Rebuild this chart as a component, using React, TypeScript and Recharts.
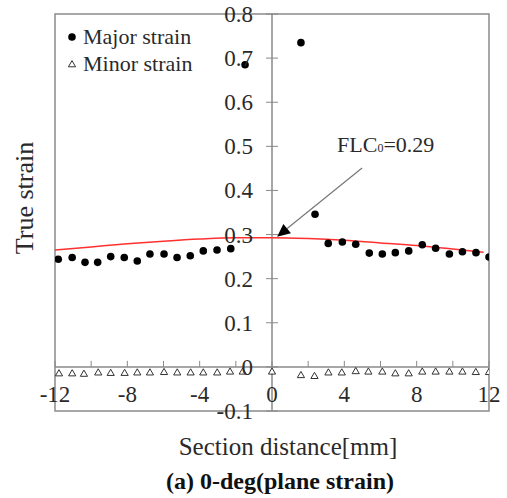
import React from "react"
import { ComposedChart, Scatter, Line, XAxis, YAxis, ReferenceLine, ReferenceArea } from "recharts"

// major strain (black dots)
const MAJOR_X = [-11.82, -11.05, -10.34, -9.64, -8.92, -8.17, -7.45, -6.75, -5.97, -5.25, -4.52, -3.8, -3.04, -2.28, -1.49, 1.6, 2.38, 3.11, 3.89, 4.63, 5.38, 6.1, 6.82, 7.56, 8.31, 9.05, 9.81, 10.53, 11.28, 12]
const MAJOR_Y = [0.244, 0.248, 0.237, 0.237, 0.25, 0.248, 0.24, 0.256, 0.256, 0.248, 0.252, 0.263, 0.265, 0.268, 0.685, 0.735, 0.346, 0.28, 0.283, 0.278, 0.258, 0.256, 0.259, 0.263, 0.277, 0.269, 0.256, 0.261, 0.259, 0.249]

// minor strain (open triangles)
const MINOR_X = [-11.78, -11.05, -10.4, -9.61, -8.92, -8.15, -7.45, -6.75, -5.97, -5.24, -4.5, -3.8, -3.03, -2.32, -1.62, 0, 1.6, 2.35, 3.12, 3.86, 4.63, 5.33, 6.1, 6.82, 7.56, 8.31, 9.05, 9.81, 10.53, 11.27, 12]
const MINOR_Y = [-0.014, -0.014, -0.015, -0.012, -0.013, -0.013, -0.012, -0.012, -0.011, -0.012, -0.012, -0.012, -0.012, -0.01, -0.01, -0.01, -0.018, -0.02, -0.012, -0.012, -0.009, -0.01, -0.01, -0.014, -0.014, -0.01, -0.01, -0.01, -0.01, -0.011, -0.011]

// FLC curve (red)
const FLC_X = [-12, -10, -8, -6, -4, -2, 0, 2, 4, 6, 8, 10, 11.7]
const FLC_Y = [0.265, 0.272, 0.279, 0.285, 0.29, 0.293, 0.293, 0.291, 0.287, 0.281, 0.275, 0.267, 0.26]

const X_TICKS = [-12, -10, -8, -6, -4, -2, 0, 2, 4, 6, 8, 10, 12]
const X_LABELS = ["-12", "-8", "-4", "0", "4", "8", "12"]
const Y_TICKS = [-0.1, -0.05, 0, 0.05, 0.1, 0.15, 0.2, 0.25, 0.3, 0.35, 0.4, 0.45, 0.5, 0.55, 0.6, 0.65, 0.7, 0.75, 0.8]
const Y_LABELS = ["-0.1", "0", "0.1", "0.2", "0.3", "0.4", "0.5", "0.6", "0.7", "0.8"]

const FLC_TEXT = "FLC"
const FLC_SUB = "0"
const FLC_VALUE = "=0.29"
const ARROW_FROM = { x: 4.98, y: 0.451 }
const ARROW_TO = { x: 0.28, y: 0.295 }

const majorData = MAJOR_X.map((x, i) => ({ x, y: MAJOR_Y[i] }))
const minorData = MINOR_X.map((x, i) => ({ x, y: MINOR_Y[i] }))
const flcData = FLC_X.map((x, i) => ({ x, y: FLC_Y[i] }))

const W = 507
const H = 498
const M = { top: 14, right: 18, bottom: 86, left: 54 }
const PLOT_LEFT = M.left + 1
const PLOT_W = W - PLOT_LEFT - M.right
const PLOT_H = H - M.top - M.bottom - 1
const X_MIN = -12, X_MAX = 12, Y_MIN = -0.1, Y_MAX = 0.8
const ZERO_X = PLOT_LEFT + PLOT_W * (0 - X_MIN) / (X_MAX - X_MIN)
const ZERO_Y = M.top + PLOT_H * (Y_MAX - 0) / (Y_MAX - Y_MIN)

const FONT = "'Liberation Serif', 'Times New Roman', serif"
const AXIS = "#8a8a8a"
const TEXT = "#2a2a2a"

const fmt = (v: number) => String(Number(v.toFixed(2)))

const XTick = (props: any) => {
  const { x, payload } = props
  const label = fmt(payload.value)
  return (
    <g>
      <line x1={x} x2={x} y1={ZERO_Y - 6} y2={ZERO_Y} stroke={AXIS} />
      {X_LABELS.includes(label) && (
        <text x={x} y={ZERO_Y + 35} textAnchor="middle" fontFamily={FONT} fontSize={23} fill={TEXT}>{label}</text>
      )}
    </g>
  )
}

const YTick = (props: any) => {
  const { y, payload } = props
  const label = fmt(payload.value)
  return (
    <g>
      <line x1={ZERO_X - 6} x2={ZERO_X + 6} y1={y} y2={y} stroke={AXIS} />
      {Y_LABELS.includes(label) && (
        <text x={ZERO_X - 19} y={y} dy="0.35em" textAnchor="end" fontFamily={FONT} fontSize={23} fill={TEXT}>{label}</text>
      )}
    </g>
  )
}

const Dot = (p: any) => <circle cx={p.cx} cy={p.cy} r={3.8} fill="#000" />

const Tri = (p: any) => (
  <path
    d={`M${p.cx},${p.cy - 3.4} L${p.cx + 3.6},${p.cy + 2.8} L${p.cx - 3.6},${p.cy + 2.8} Z`}
    fill="#fff"
    stroke="#333"
    strokeWidth={1}
  />
)

const Arrow = (p: any) => {
  const { x1, y1, x2, y2 } = p
  const ang = Math.atan2(y2 - y1, x2 - x1)
  const len = 13
  const wid = 6
  const bx = x2 - len * Math.cos(ang)
  const by = y2 - len * Math.sin(ang)
  const nx = -Math.sin(ang) * wid
  const ny = Math.cos(ang) * wid
  return (
    <g>
      <line x1={x1} y1={y1} x2={bx} y2={by} stroke="#777" strokeWidth={1.2} />
      <polygon points={`${x2},${y2} ${bx + nx},${by + ny} ${bx - nx},${by - ny}`} fill="#000" />
      <text x={x1 - 25} y={y1 - 16} fontFamily={FONT} fontSize={22} fill={TEXT}>
        {FLC_TEXT}
        <tspan fontSize={12}>{FLC_SUB}</tspan>
        {FLC_VALUE}
      </text>
    </g>
  )
}

const LegendBox = () => (
  <div style={{ position: "absolute", left: 65, top: 23, fontFamily: FONT, fontSize: 22, color: TEXT }}>
    <div style={{ display: "flex", alignItems: "center", height: 27 }}>
      <svg width={14} height={14}><circle cx={7} cy={7} r={3.8} fill="#000" /></svg>
      <span style={{ marginLeft: 4 }}>Major strain</span>
    </div>
    <div style={{ display: "flex", alignItems: "center", height: 27 }}>
      <svg width={14} height={14}><path d="M7,3.6 L10.6,9.8 L3.4,9.8 Z" fill="#fff" stroke="#333" /></svg>
      <span style={{ marginLeft: 4 }}>Minor strain</span>
    </div>
  </div>
)

export default function App() {
  return (
    <div style={{ position: "absolute", left: 0, top: 0, width: W, height: H, background: "#fff" }}>
      <ComposedChart width={W} height={H} margin={M}>
        <XAxis
          type="number"
          dataKey="x"
          domain={[X_MIN, X_MAX]}
          ticks={X_TICKS}
          allowDataOverflow
          axisLine={false}
          tickLine={false}
          height={1}
          tick={XTick}
        />
        <YAxis
          type="number"
          dataKey="y"
          domain={[Y_MIN, Y_MAX]}
          ticks={Y_TICKS}
          allowDataOverflow
          axisLine={false}
          tickLine={false}
          width={1}
          tick={YTick}
        />
        <ReferenceArea x1={X_MIN} x2={X_MAX} y1={Y_MIN} y2={Y_MAX} fill="none" stroke={AXIS} strokeWidth={1.5} />
        <ReferenceLine x={0} stroke={AXIS} strokeWidth={1.5} />
        <ReferenceLine y={0} stroke={AXIS} strokeWidth={1.5} />
        <Line data={flcData} dataKey="y" type="monotone" stroke="#ff3030" strokeWidth={1.5} dot={false} isAnimationActive={false} legendType="none" />
        <Scatter name="Major strain" data={majorData} shape={<Dot />} isAnimationActive={false} />
        <Scatter name="Minor strain" data={minorData} shape={<Tri />} isAnimationActive={false} />
        <ReferenceLine segment={[ARROW_FROM, ARROW_TO]} shape={Arrow} />
      </ComposedChart>
      <LegendBox />
      <div style={{ position: "absolute", left: 25, top: 198, transform: "translate(-50%, -50%) rotate(-90deg)", fontFamily: FONT, fontSize: 26, color: TEXT, whiteSpace: "nowrap" }}>
        True strain
      </div>
      <div style={{ position: "absolute", left: 288, top: 447, transform: "translate(-50%, -50%)", fontFamily: FONT, fontSize: 25, color: TEXT, whiteSpace: "nowrap" }}>
        Section distance[mm]
      </div>
      <div style={{ position: "absolute", left: 280, top: 481, transform: "translate(-50%, -50%)", fontFamily: FONT, fontSize: 24, fontWeight: "bold", color: "#111", whiteSpace: "nowrap" }}>
        (a) 0-deg(plane strain)
      </div>
    </div>
  )
}
